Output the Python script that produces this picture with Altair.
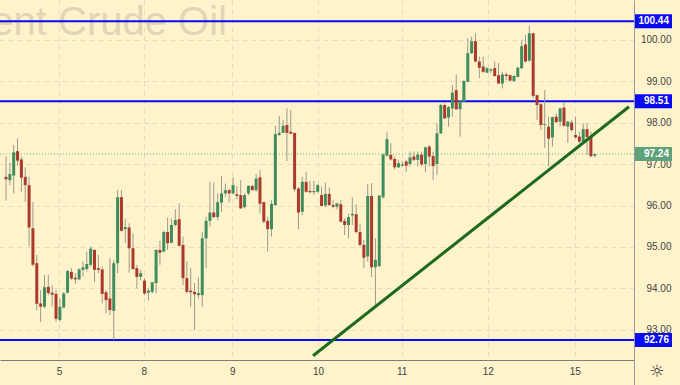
import altair as alt
import pandas as pd

# ---- hourly OHLC candles ----
opens = [96.69, 96.61, 96.72, 97.31, 97.11, 96.69, 96.49, 95.45, 94.61, 93.64,
         93.56, 94.04, 93.90, 93.87, 93.24, 93.54, 93.90, 94.40, 94.26, 94.22,
         94.45, 94.47, 94.57, 94.93, 94.49, 94.46, 93.91, 93.76, 93.46, 94.61,
         96.20, 95.43, 95.47, 94.97, 94.49, 94.28, 94.19, 93.90, 93.92, 94.13,
         94.93, 94.89, 95.36, 95.10, 95.53, 95.67, 95.05, 94.25, 93.95, 93.92,
         93.84, 93.84, 95.21, 95.63, 95.83, 95.72, 96.07, 96.29, 96.37, 96.29,
         96.27, 96.25, 95.96, 96.29, 96.47, 96.37, 96.68, 96.08, 95.63, 95.43,
         96.01, 97.70, 97.75, 97.94, 97.78, 97.75, 96.41, 95.85, 96.57, 96.35,
         96.32, 96.33, 96.25, 96.00, 96.28, 96.01, 95.97, 96.03, 95.63, 95.53,
         95.76, 95.79, 95.36, 95.05, 94.77, 96.23, 94.51, 94.54, 96.20, 97.20,
         97.22, 97.12, 96.92, 96.96, 97.06, 97.00, 97.18, 97.10, 97.22, 97.00,
         97.42, 97.19, 97.00, 97.74, 98.42, 98.12, 98.34, 98.78, 98.32, 98.50,
         98.98, 99.67, 99.96, 99.47, 99.35, 99.20, 99.25, 99.31, 99.14, 98.94,
         99.16, 99.14, 99.00, 99.10, 99.31, 99.88, 99.49, 100.15, 98.66, 98.44,
         97.94, 97.90, 97.64, 98.14, 98.02, 98.36, 97.90, 98.00, 97.70, 97.66,
         97.54, 97.84, 97.65, 97.20]
highs = [97.18, 97.03, 97.46, 97.62, 97.18, 96.92, 96.69, 96.09, 94.81, 93.96,
         94.33, 94.33, 94.08, 93.96, 93.76, 93.92, 94.45, 94.49, 94.37, 94.49,
         94.65, 94.89, 95.01, 94.94, 94.81, 94.53, 93.96, 94.73, 94.69, 96.37,
         96.37, 95.67, 95.57, 95.33, 94.57, 94.45, 94.25, 94.00, 94.16, 94.94,
         95.15, 95.39, 95.71, 95.69, 95.91, 96.05, 95.25, 94.66, 94.49, 94.13,
         94.27, 95.37, 95.73, 96.57, 96.55, 96.29, 96.71, 96.53, 96.41, 96.68,
         96.47, 96.61, 96.29, 96.49, 96.50, 96.76, 96.86, 96.09, 95.73, 96.13,
         97.92, 98.16, 98.06, 98.34, 98.30, 97.75, 96.44, 96.69, 96.81, 96.59,
         96.59, 96.52, 96.45, 96.55, 96.44, 96.13, 96.07, 96.13, 95.69, 95.80,
         96.20, 96.03, 95.57, 95.17, 96.52, 96.54, 95.21, 96.25, 97.26, 97.78,
         97.50, 97.18, 97.10, 97.07, 97.10, 97.30, 97.30, 97.30, 97.30, 97.42,
         97.46, 97.30, 97.98, 98.45, 98.46, 98.40, 98.90, 99.16, 98.54, 99.02,
         100.03, 100.07, 100.15, 99.59, 99.59, 99.33, 99.31, 99.47, 99.43, 99.22,
         99.20, 99.16, 99.14, 99.35, 99.99, 100.11, 100.33, 100.16, 98.66, 98.46,
         98.78, 98.14, 98.14, 98.22, 98.36, 98.50, 98.04, 98.06, 98.14, 97.78,
         97.98, 97.98, 97.78, 97.26]
lows = [96.12, 96.49, 96.29, 96.96, 96.33, 96.09, 95.02, 94.53, 93.48, 93.19,
        93.52, 93.84, 93.56, 93.20, 93.20, 93.52, 93.88, 94.20, 94.11, 94.20,
        94.28, 94.41, 94.53, 94.16, 94.37, 93.64, 93.40, 93.36, 92.76, 94.37,
        95.37, 95.09, 94.38, 94.45, 94.00, 94.20, 93.84, 93.71, 93.88, 93.88,
        94.57, 94.87, 94.93, 95.09, 95.49, 95.01, 94.08, 93.88, 93.56, 93.00,
        93.76, 93.55, 94.49, 95.49, 95.69, 95.65, 95.85, 96.21, 96.07, 96.27,
        96.15, 95.92, 95.93, 96.25, 96.36, 96.33, 95.81, 95.57, 94.89, 95.25,
        95.99, 97.67, 97.74, 97.07, 97.72, 96.33, 95.43, 95.77, 96.31, 96.29,
        96.25, 96.31, 95.97, 95.97, 95.99, 95.93, 95.91, 95.59, 95.29, 95.21,
        95.53, 95.33, 95.01, 94.49, 94.65, 94.28, 93.56, 94.51, 96.17, 97.18,
        97.08, 96.87, 96.90, 96.94, 96.81, 96.94, 97.06, 96.94, 96.94, 96.81,
        96.94, 96.61, 96.73, 97.72, 98.08, 97.90, 98.14, 98.30, 97.66, 98.48,
        98.96, 99.65, 99.45, 99.07, 99.20, 99.19, 99.19, 99.10, 98.93, 98.82,
        99.02, 98.98, 98.98, 99.09, 99.28, 99.44, 99.47, 98.58, 98.06, 97.82,
        97.39, 96.94, 97.42, 97.98, 97.90, 97.90, 97.51, 97.78, 97.62, 97.50,
        97.51, 97.22, 97.16, 97.16]
closes = [96.63, 96.76, 97.28, 97.08, 96.67, 96.49, 95.47, 94.57, 93.63, 93.56,
          94.03, 93.89, 93.85, 93.27, 93.56, 93.88, 94.42, 94.24, 94.22, 94.46,
          94.51, 94.59, 94.96, 94.45, 94.45, 93.87, 93.72, 93.48, 94.61, 96.20,
          95.39, 95.48, 94.97, 94.47, 94.28, 94.37, 93.88, 93.95, 94.15, 94.93,
          94.86, 95.36, 95.09, 95.53, 95.65, 95.03, 94.25, 93.92, 93.91, 93.86,
          93.89, 95.21, 95.63, 95.83, 95.72, 96.08, 96.29, 96.37, 96.29, 96.49,
          96.23, 95.93, 96.25, 96.47, 96.37, 96.65, 96.04, 95.61, 95.43, 96.04,
          97.72, 97.75, 97.92, 97.75, 97.73, 96.39, 95.83, 96.57, 96.33, 96.32,
          96.35, 96.49, 95.99, 96.28, 96.01, 95.97, 96.05, 95.61, 95.53, 95.72,
          95.80, 95.36, 95.05, 94.74, 96.23, 94.51, 94.69, 96.24, 97.23, 97.60,
          97.11, 96.92, 97.02, 96.99, 96.96, 97.16, 97.10, 97.23, 96.99, 97.40,
          97.18, 96.95, 97.74, 98.42, 98.10, 98.37, 98.72, 98.32, 98.52, 99.00,
          99.67, 99.96, 99.47, 99.32, 99.22, 99.31, 99.28, 99.12, 98.94, 99.16,
          99.12, 99.01, 99.12, 99.32, 99.84, 99.47, 100.15, 98.64, 98.42, 97.94,
          97.96, 97.61, 98.13, 98.01, 98.34, 97.92, 98.02, 97.82, 97.64, 97.54,
          97.84, 97.65, 97.19, 97.24]

# ---- axis / annotation values ----
day_labels = ["5", "8", "9", "10", "11", "12", "15"]
day_pos = [13.8, 35.8, 58.8, 81.1, 102.8, 125.2, 147.8]
price_ticks = [93, 94, 95, 96, 97, 98, 99, 100, 101]
level_values = [100.44, 98.51, 92.76]
current_price = 97.24
trend_x = [79.8, 161.9]
trend_y = [92.38, 98.38]
watermark = "Brent Crude Oil"

BG = "#fff3cc"
GRID = "#e6dcc0"
UP = "#3f8d5c"
DOWN = "#ac3a2c"
BLUE = "#0a0af5"

df = pd.DataFrame({"i": list(range(len(opens))), "o": opens, "h": highs,
                   "l": lows, "c": closes})

xs = alt.Scale(domain=[-0.26, 161.9], nice=False, zero=False)
ys = alt.Scale(domain=[92.277, 100.952], nice=False, zero=False)

pos_str = ",".join(str(p) for p in day_pos)
lab_str = ",".join("'%s'" % d for d in day_labels)
x_expr = "[%s][indexof([%s], datum.value)]" % (lab_str, pos_str)

x_axis = alt.Axis(values=day_pos, labelExpr=x_expr, grid=True, gridDash=[5, 4],
                  gridColor=GRID, ticks=False, tickSize=0, domainColor="#7d7d7d",
                  labelColor="#444444", labelFont="Liberation Sans", labelFontSize=10,
                  labelPadding=6, title=None)
y_axis = alt.Axis(orient="right", values=price_ticks, format=".2f", grid=True,
                  gridDash=[5, 4], gridColor=GRID, ticks=False, tickSize=0,
                  domainColor="#9a9a9a", labelAlign="right", labelPadding=37,
                  labelFont="Liberation Sans", labelFontSize=10, labelColor="#444444",
                  labelFlush=False, title=None)

X = lambda f: alt.X(f, type="quantitative", scale=xs, axis=x_axis)
Y = lambda f: alt.Y(f, type="quantitative", scale=ys, axis=y_axis)

wm = alt.Chart(pd.DataFrame({"t": [watermark]})).mark_text(
    align="right", baseline="alphabetic", fontSize=40, font="Liberation Sans",
    color="#e0d6b6").encode(x=alt.value(227), y=alt.value(35), text="t:N")

lev_df = pd.DataFrame({"v": level_values, "lab": ["%.2f" % v for v in level_values],
                       "col": [BLUE] * len(level_values)})
cur_df = pd.DataFrame({"v": [current_price], "lab": ["%.2f" % current_price],
                       "col": ["#5fa27a"]})
box_df = pd.concat([lev_df, cur_df], ignore_index=True)

levels = alt.Chart(lev_df).mark_rule(color=BLUE, strokeWidth=2).encode(y=Y("v"))
cur_line = alt.Chart(cur_df).mark_rule(color="#6db585", strokeWidth=1,
                                       strokeDash=[1, 2]).encode(y=Y("v"))

wick = alt.Chart(df).mark_rule(color="#9a9a8c", strokeWidth=1).encode(
    x=X("i"), y=Y("l"), y2="h")
body = alt.Chart(df).mark_bar(size=3).encode(
    x=X("i"), y=Y("o"), y2="c",
    color=alt.condition("datum.o <= datum.c", alt.value(UP), alt.value(DOWN)))

trend = alt.Chart(pd.DataFrame({"x": trend_x, "y": trend_y})).mark_line(
    color="#1d6a1d", strokeWidth=3, clip=True).encode(x=X("x"), y=Y("y"))

boxes = alt.Chart(box_df).mark_rect(yOffset=-7, y2Offset=7).encode(
    x=alt.value(635), x2=alt.value(672), y=Y("v"), y2="v",
    color=alt.Color("col:N", scale=None))
box_txt = alt.Chart(box_df).mark_text(
    align="right", baseline="middle", fontSize=10, fontWeight="bold",
    font="Liberation Sans", color="white").encode(
    x=alt.value(669), y=Y("v"), text="lab:N")

corner = alt.Chart(pd.DataFrame({"k": [0]})).mark_rule(color="#9a9a9a").encode(
    x=alt.value(634.5), y=alt.value(360), y2=alt.value(385))
gear = alt.Chart(pd.DataFrame({"g": ["\u263c"]})).mark_text(
    fontSize=17, font="DejaVu Sans", color="#333333", baseline="middle").encode(
    x=alt.value(657), y=alt.value(372), text="g:N")

chart = alt.layer(wm, levels, cur_line, wick, body, trend, boxes, box_txt,
                  corner, gear).properties(
    width=634, height=360,
    autosize=alt.AutoSizeParams(type="none"),
    padding={"left": 0, "top": 0, "right": 46, "bottom": 25},
    background=BG,
).configure_view(fill=BG, strokeWidth=0)

chart.save("out.html", embed_options={"renderer": "svg", "actions": False})
